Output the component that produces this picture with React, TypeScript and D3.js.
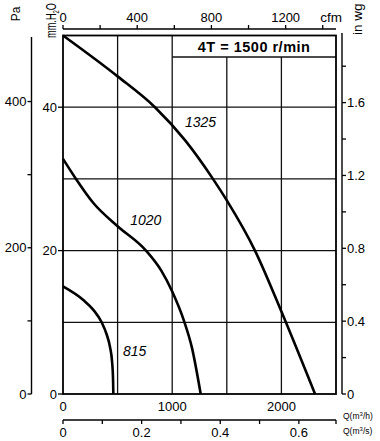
import React from 'react';
import * as d3 from 'd3';

// ---- data ----
const gridQ = [500, 1000, 1500, 2000];
const gridP = [10, 20, 30, 40];
const qLabels = [0, 1000, 2000];
const mmLabels = [0, 20, 40];
const paTicks = [0, 100, 200, 300, 400];
const paLabels = [0, 200, 400];
const inwgTicks = [0, 0.2, 0.4, 0.6, 0.8, 1.0, 1.2, 1.4, 1.6, 1.8];
const inwgLabels = [0, 0.4, 0.8, 1.2, 1.6];
const cfmTicks = [0, 200, 400, 600, 800, 1000, 1200, 1400];
const cfmLabels = [0, 400, 800, 1200];
const m3sTicks = [0, 0.1, 0.2, 0.3, 0.4, 0.5, 0.6];
const m3sLabels = [0, 0.2, 0.4, 0.6];

const q1325 = [0, 500, 842, 1117, 1373, 1500, 1758, 2000, 2308];
const p1325 = [50, 44.3, 40, 35.4, 30, 27, 20, 11.5, 0];
const q1020 = [0, 119, 280, 500, 760, 900, 1000, 1108, 1180, 1261];
const p1020 = [32.8, 30, 26.6, 23.4, 20, 17.2, 14.3, 10.2, 6.5, 0];
const q815 = [0, 186, 280, 354, 400, 430, 450, 458, 461];
const p815 = [15, 13.1, 11.7, 10, 8.3, 6.6, 4.4, 2.2, 0];

const curves = [
  { name: '1325', q: q1325, p: p1325, lq: 1117, lp: 37.2 },
  { name: '1020', q: q1020, p: p1020, lq: 615, lp: 23.55 },
  { name: '815', q: q815, p: p815, lq: 550, lp: 5.3 },
];

const title = '4T = 1500 r/min';

export default function App() {
  const L = 63, R = 336, T = 35.5, B = 394;
  const x = d3.scaleLinear().domain([0, 2500]).range([L, R]);
  const y = d3.scaleLinear().domain([0, 50]).range([B, T]);
  const yPa = (pa: number) => y(pa / 9.80665);
  const yIn = (v: number) => y(v * 25.4);
  const xCfm = (v: number) => x(v * 1.699);
  const xM3s = (v: number) => x(v * 3600);
  const line = d3
    .line<[number, number]>()
    .x((d) => x(d[0]))
    .y((d) => y(d[1]))
    .curve(d3.curveMonotoneX);
  const font = 'Liberation Sans, Arial, Helvetica, sans-serif';
  const titleBottom = 57;
  const cfmY = 29;
  const m3sY = 420;
  const paX = 31.5;
  const inX = 342;

  return (
    <div style={{ position: 'absolute', left: 0, top: 0 }}>
      <svg width={380} height={441} style={{ display: 'block', background: '#fff' }} fontFamily={font}>
        <rect x={0} y={0} width={380} height={441} fill="#fff" />
        {/* grid */}
        {gridQ.map((q) => (
          <line key={'gq' + q} x1={x(q)} x2={x(q)} y1={q > 1000 ? titleBottom : T} y2={B} stroke="#111" strokeWidth={1.3} />
        ))}
        {gridP.map((p) => (
          <line key={'gp' + p} x1={L} x2={R} y1={y(p)} y2={y(p)} stroke="#111" strokeWidth={1.3} />
        ))}
        {/* title box */}
        <line x1={x(1000)} x2={R} y1={titleBottom} y2={titleBottom} stroke="#111" strokeWidth={1.3} />
        <text x={(x(1000) + R) / 2} y={52} textAnchor="middle" fontSize={14.5} fontWeight="bold" letterSpacing={0.5}>
          {title}
        </text>
        {/* frame */}
        <rect x={L} y={T} width={R - L} height={B - T} fill="none" stroke="#000" strokeWidth={1.8} />
        {/* curves */}
        {curves.map((c) => (
          <g key={c.name}>
            <path d={line(c.q.map((q, i) => [q, c.p[i]]) as [number, number][]) || ''} fill="none" stroke="#000" strokeWidth={2.6} strokeLinejoin="round" />
            <text x={x(c.lq)} y={y(c.lp)} fontSize={14} fontStyle="italic">
              {c.name}
            </text>
          </g>
        ))}
        {/* mm axis labels */}
        {mmLabels.map((p) => (
          <g key={'mm' + p}>
            <line x1={L - 5} x2={L} y1={y(p)} y2={y(p)} stroke="#000" strokeWidth={1.3} />
            <text x={L - 6} y={y(p) + 4.6} textAnchor="end" fontSize={13}>
              {p}
            </text>
          </g>
        ))}
        {qLabels.map((q) => (
          <text key={'ql' + q} x={x(q)} y={411} textAnchor="middle" fontSize={13}>
            {q}
          </text>
        ))}
        {/* Pa axis */}
        <line x1={paX} x2={paX} y1={37} y2={B} stroke="#000" strokeWidth={1.4} />
        {paTicks.map((v) => (
          <line key={'pt' + v} x1={paX - 4} x2={paX} y1={yPa(v)} y2={yPa(v)} stroke="#000" strokeWidth={1.3} />
        ))}
        {paLabels.map((v) => (
          <text key={'pl' + v} x={paX - 5} y={yPa(v) + 4.6} textAnchor="end" fontSize={13}>
            {v}
          </text>
        ))}
        <text transform="translate(20,14) rotate(-90)" textAnchor="middle" fontSize={12}>
          Pa
        </text>
        <text transform="translate(56,38) rotate(-90)" fontSize={14} textLength={35} lengthAdjust="spacingAndGlyphs">
          mm.H<tspan fontSize={9} dy={3}>2</tspan>
          <tspan dy={-3}>O</tspan>
        </text>
        {/* in wg axis */}
        <line x1={inX} x2={inX} y1={33} y2={B} stroke="#000" strokeWidth={1.4} />
        {inwgTicks.map((v) => (
          <line key={'it' + v} x1={inX} x2={inX + 4} y1={yIn(v)} y2={yIn(v)} stroke="#000" strokeWidth={1.3} />
        ))}
        {inwgLabels.map((v) => (
          <text key={'il' + v} x={inX + 5} y={yIn(v) + 4.6} fontSize={13}>
            {v}
          </text>
        ))}
        <text transform="translate(362,35) rotate(-90)" fontSize={13.5}>
          in wg
        </text>
        {/* cfm axis */}
        <line x1={L} x2={R} y1={cfmY} y2={cfmY} stroke="#000" strokeWidth={1.4} />
        {cfmTicks.map((v) => (
          <line key={'ct' + v} x1={xCfm(v)} x2={xCfm(v)} y1={cfmY - 4} y2={cfmY} stroke="#000" strokeWidth={1.3} />
        ))}
        {cfmLabels.map((v) => (
          <text key={'cl' + v} x={xCfm(v)} y={22} textAnchor="middle" fontSize={13}>
            {v}
          </text>
        ))}
        <text x={331} y={22} textAnchor="middle" fontSize={13.5}>
          cfm
        </text>
        {/* m3/s axis */}
        <line x1={L} x2={R} y1={m3sY} y2={m3sY} stroke="#000" strokeWidth={1.4} />
        {m3sTicks.map((v) => (
          <line key={'mt' + v} x1={xM3s(v)} x2={xM3s(v)} y1={m3sY} y2={m3sY + 4} stroke="#000" strokeWidth={1.3} />
        ))}
        <line x1={R} x2={R} y1={m3sY} y2={m3sY + 4} stroke="#000" strokeWidth={1.3} />
        {m3sLabels.map((v) => (
          <text key={'ml' + v} x={xM3s(v)} y={436.5} textAnchor="middle" fontSize={13}>
            {v}
          </text>
        ))}
        <text x={343} y={419} fontSize={8.5}>
          Q(m<tspan fontSize={6} dy={-3}>3</tspan>
          <tspan dy={3}>/h)</tspan>
        </text>
        <text x={343} y={434} fontSize={8.5}>
          Q(m<tspan fontSize={6} dy={-3}>3</tspan>
          <tspan dy={3}>/s)</tspan>
        </text>
      </svg>
    </div>
  );
}
